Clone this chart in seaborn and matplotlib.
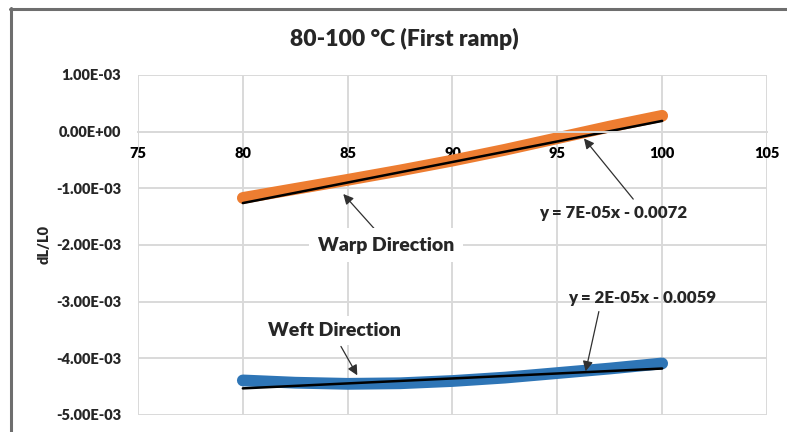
import matplotlib
matplotlib.use("Agg")
import matplotlib.pyplot as plt
from matplotlib.lines import Line2D
from matplotlib.ticker import FuncFormatter
import seaborn as sns
import pandas as pd

# ---- data ----
temperature = [80, 82.5, 85, 87.5, 90, 92.5, 95, 97.5, 100]
warp_dl = [-1.17e-3, -1.01e-3, -0.85e-3, -0.685e-3, -0.51e-3, -0.32e-3, -0.115e-3, 0.09e-3, 0.28e-3]
weft_dl = [-4.39e-3, -4.43e-3, -4.45e-3, -4.44e-3, -4.40e-3, -4.34e-3, -4.26e-3, -4.18e-3, -4.09e-3]
fit_x = [80, 100]
warp_fit = [-1.26e-3, 0.19e-3]
weft_fit = [-4.53e-3, -4.18e-3]
x_ticks = [75, 80, 85, 90, 95, 100, 105]
y_ticks = [1e-3, 0, -1e-3, -2e-3, -3e-3, -4e-3, -5e-3]
title = "80-100 °C (First ramp)"
warp_eq = "y = 7E-05x - 0.0072"
weft_eq = "y = 2E-05x - 0.0059"

sns.set_style("white")
plt.rcParams["font.family"] = ["Lato", "DejaVu Sans"]
plt.rcParams["font.weight"] = "heavy"
W = "heavy"

df = pd.DataFrame({
    "T": temperature * 2,
    "dL": warp_dl + weft_dl,
    "dir": ["Warp"] * len(temperature) + ["Weft"] * len(temperature),
})
fit_df = pd.DataFrame({
    "T": fit_x * 2,
    "dL": warp_fit + weft_fit,
    "dir": ["Warp"] * 2 + ["Weft"] * 2,
})

fig = plt.figure(figsize=(7.87, 4.32), dpi=100)
ax = fig.add_axes([138 / 787, 1 - 415 / 432, (767 - 138) / 787, (415 - 75) / 432])

sns.lineplot(data=df, x="T", y="dL", hue="dir", palette={"Warp": "#ED7D31", "Weft": "#2E75B6"},
             linewidth=8.5, solid_capstyle="round", solid_joinstyle="round", legend=False, ax=ax)
sns.lineplot(data=fit_df, x="T", y="dL", units="dir", estimator=None, color="black",
             linewidth=1.8, legend=False, ax=ax)

ax.set_xlim(75, 105)
ax.set_ylim(-5e-3, 1e-3)
ax.set_xticks(x_ticks)
ax.set_yticks(y_ticks)
ax.yaxis.set_major_formatter(FuncFormatter(lambda v, p: f"{v:.2E}"))
ax.grid(True, color="#D9D9D9", linewidth=1.4)
ax.set_axisbelow(True)
for s in ["top", "right", "left"]:
    ax.spines[s].set_visible(False)
ax.spines["bottom"].set_position(("data", 0))
ax.spines["bottom"].set_color("#D9D9D9")
ax.spines["bottom"].set_linewidth(1.4)
ax.tick_params(axis="x", length=0, pad=11, labelsize=10.5, colors="#000000")
ax.tick_params(axis="y", length=0, pad=12, labelsize=10.5)
for lab in ax.get_xticklabels() + ax.get_yticklabels():
    lab.set_fontweight(W)
ax.set_xlabel("")
ax.set_ylabel("")

# annotations
arrow = dict(arrowstyle="-|>", color="#303030", lw=0.9, mutation_scale=15, shrinkA=0, shrinkB=0)
ax.annotate("", xy=(84.79, -1.10e-3), xytext=(86.41, -1.77e-3), arrowprops=arrow)
ax.annotate("", xy=(96.27, -0.12e-3), xytext=(98.62, -1.19e-3), arrowprops=arrow)
ax.annotate("", xy=(85.46, -4.30e-3), xytext=(84.68, -3.79e-3), arrowprops=arrow)
ax.annotate("", xy=(96.35, -4.23e-3), xytext=(96.98, -3.175e-3), arrowprops=arrow)

ax.text(86.84, -2.0e-3, "Warp Direction", ha="center", va="center", fontsize=14, fontweight=W,
        bbox=dict(boxstyle="square,pad=0.45", fc="white", ec="none"))
ax.text(84.36, -3.506e-3, "Weft Direction", ha="center", va="center", fontsize=14, fontweight=W,
        bbox=dict(boxstyle="square,pad=0.3", fc="white", ec="none"))
ax.text(97.68, -1.443e-3, warp_eq, ha="center", va="center", fontsize=12.2, fontweight=W)
ax.text(99.05, -2.938e-3, weft_eq, ha="center", va="center", fontsize=12.2, fontweight=W)

fig.text(404 / 787, 1 - 39 / 432, title, ha="center", va="center", fontsize=16.5, fontweight=W)
fig.text(44 / 787, 1 - 244 / 432, "dL/L0", ha="center", va="center", rotation=90, fontsize=10.5,
         fontweight=W)

# chart frame
fig.add_artist(Line2D([10 / 787, 1.0], [1 - 8.5 / 432] * 2, color="#6E6E6E", lw=2.2, transform=fig.transFigure))
fig.add_artist(Line2D([11 / 787] * 2, [1 - 8 / 432, 0], color="#6E6E6E", lw=2.2, transform=fig.transFigure))

fig.savefig("out.png", dpi=100)
